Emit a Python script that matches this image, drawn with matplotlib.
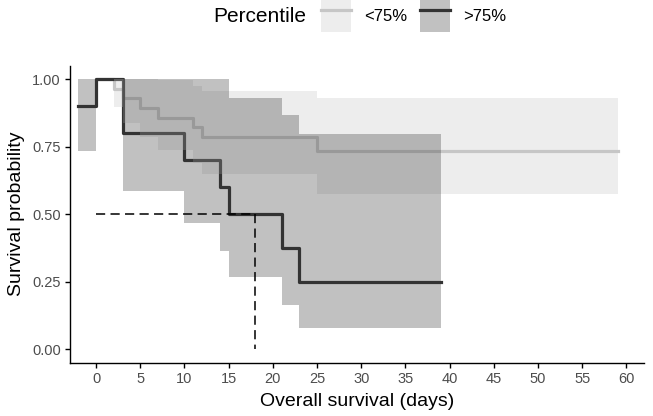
import matplotlib
matplotlib.use('Agg')
import matplotlib.pyplot as plt
from matplotlib.lines import Line2D
from matplotlib.patches import Patch
from matplotlib.legend_handler import HandlerTuple

plt.rcParams['font.family'] = ['Liberation Sans', 'DejaVu Sans']

# curva <75%
t_baixo = [0, 2, 3, 5, 7, 11, 12, 25, 59]
s_baixo = [1.0, 0.964, 0.929, 0.893, 0.857, 0.821, 0.786, 0.733, 0.733]
inf_baixo = [1.0, 0.896, 0.838, 0.785, 0.737, 0.691, 0.648, 0.573, 0.573]
sup_baixo = [1.0, 1.0, 1.0, 1.0, 0.997, 0.976, 0.954, 0.928, 0.928]

# curva >75%
t_alto = [-2, 0, 3, 10, 14, 15, 21, 23, 39]
s_alto = [0.9, 1.0, 0.8, 0.7, 0.6, 0.5, 0.375, 0.25, 0.25]
inf_alto = [0.734, 1.0, 0.587, 0.467, 0.362, 0.269, 0.162, 0.078, 0.078]
sup_alto = [1.0, 1.0, 1.0, 1.0, 1.0, 0.929, 0.868, 0.797, 0.797]

mediana = 18
rotulos = ['<75%', '>75%']
cores = ['#C6C6C6', '#333333']

fig = plt.figure(figsize=(6.53, 4.16), dpi=100)
ax = fig.add_axes([0.1072, 0.1281, 0.8784, 0.7144])

for t, s, c in [(t_baixo, s_baixo, cores[0]), (t_alto, s_alto, cores[1])]:
    ax.step(t, s, where='post', color=c, linewidth=2.3, zorder=2)

for t, lo, hi, c in [(t_baixo, inf_baixo, sup_baixo, cores[0]),
                     (t_alto, inf_alto, sup_alto, cores[1])]:
    ax.fill_between(t, lo, hi, step='post', color=c, alpha=0.3,
                    linewidth=0, zorder=3)

# mediana
ax.plot([0, mediana], [0.5, 0.5], color='black', linewidth=1.1,
        linestyle=(0, (6, 3.5)), zorder=4)
ax.plot([mediana, mediana], [0.5, 0], color='black', linewidth=1.1,
        linestyle=(0, (6, 3.5)), zorder=4)

ax.set_xlim(-2.95, 61.95)
ax.set_ylim(-0.05, 1.05)
ax.set_xticks(range(0, 61, 5))
ax.set_yticks([0, 0.25, 0.5, 0.75, 1.0])
ax.set_yticklabels(['0.00', '0.25', '0.50', '0.75', '1.00'])
ax.tick_params(labelsize=10.5, length=3.5, width=1, color='black',
               labelcolor='#4D4D4D', pad=3)
for lado in ['top', 'right']:
    ax.spines[lado].set_visible(False)
for lado in ['left', 'bottom']:
    ax.spines[lado].set_linewidth(1.0)
ax.set_xlabel('Overall survival (days)', fontsize=14, labelpad=5)
ax.set_ylabel('Survival probability', fontsize=14, labelpad=5)

# legenda
fig.text(213 / 653, 1 - 16 / 416, 'Percentile', fontsize=15, va='center')
alcas = []
for c in cores:
    alcas.append((Patch(facecolor=c, alpha=0.3, edgecolor='none'),
                  Line2D([], [], color=c, linewidth=2.3)))
fig.legend(alcas, rotulos, handler_map={tuple: HandlerTuple(ndivide=1, pad=0)},
           loc='center left', bbox_to_anchor=(321 / 653, 1 - 16 / 416),
           ncol=2, frameon=False, fontsize=12, handlelength=1.8,
           handleheight=2.6, handletextpad=0.8, columnspacing=0.76,
           borderpad=0, borderaxespad=0)

plt.savefig('out.png', dpi=100)
plt.close()
